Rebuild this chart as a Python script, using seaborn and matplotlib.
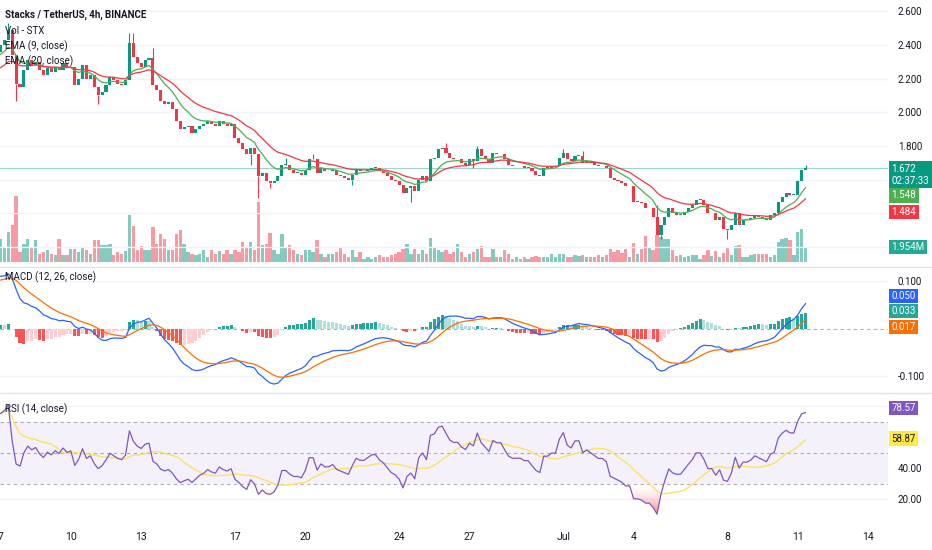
import numpy as np
import pandas as pd
import matplotlib
matplotlib.use('Agg')
import matplotlib.pyplot as plt
import matplotlib.dates as mdates
from matplotlib.lines import Line2D
from matplotlib.path import Path
from matplotlib.patches import PathPatch
from matplotlib.colors import LinearSegmentedColormap
from matplotlib import font_manager
import seaborn as sns

# 4h candles, STX/USDT, starting Jun 7 2024
first_time = '2024-06-07 00:00'
first_open = 2.36
closes = [
    2.40, 2.43, 2.49, 2.34, 2.17, 2.15, 2.25, 2.31, 2.28, 2.30,
    2.25, 2.22, 2.26, 2.24, 2.27, 2.25, 2.29, 2.26, 2.27, 2.16,
    2.20, 2.28, 2.20, 2.22, 2.15, 2.10, 2.12, 2.16, 2.21, 2.19,
    2.17, 2.16, 2.19, 2.41, 2.33, 2.29, 2.27, 2.31, 2.32, 2.16,
    2.13, 2.07, 2.05, 2.06, 2.02, 1.95, 1.90, 1.91, 1.92, 1.88,
    1.90, 1.92, 1.93, 1.95, 1.93, 1.92, 1.95, 1.93, 1.92, 1.93,
    1.85, 1.82, 1.78, 1.75, 1.79, 1.75, 1.62, 1.64, 1.59, 1.58,
    1.59, 1.62, 1.69, 1.69, 1.66, 1.64, 1.64, 1.63, 1.66, 1.72,
    1.72, 1.64, 1.67, 1.65, 1.65, 1.66, 1.63, 1.62, 1.61, 1.60,
    1.63, 1.66, 1.65, 1.65, 1.66, 1.67, 1.67, 1.65, 1.64, 1.62,
    1.60, 1.59, 1.57, 1.52, 1.55, 1.56, 1.53, 1.60, 1.62, 1.59,
    1.72, 1.73, 1.78, 1.79, 1.76, 1.73, 1.72, 1.72, 1.70, 1.69,
    1.72, 1.71, 1.78, 1.74, 1.72, 1.70, 1.76, 1.75, 1.75, 1.72,
    1.69, 1.68, 1.68, 1.68, 1.67, 1.67, 1.65, 1.63, 1.62, 1.67,
    1.67, 1.68, 1.68, 1.73, 1.76, 1.72, 1.71, 1.74, 1.74, 1.70,
    1.71, 1.70, 1.69, 1.68, 1.68, 1.67, 1.61, 1.60, 1.59, 1.58,
    1.56, 1.56, 1.47, 1.47, 1.46, 1.43, 1.43, 1.38, 1.27, 1.33,
    1.38, 1.43, 1.40, 1.39, 1.39, 1.41, 1.43, 1.45, 1.48, 1.48,
    1.45, 1.40, 1.40, 1.36, 1.38, 1.31, 1.30, 1.33, 1.40, 1.33,
    1.36, 1.36, 1.37, 1.39, 1.38, 1.37, 1.36, 1.39, 1.40, 1.47,
    1.50, 1.52, 1.51, 1.51, 1.59, 1.66, 1.672,
]
wick_highs = {2: 2.53, 33: 2.47, 34: 2.47, 39: 2.38, 73: 1.73, 80: 1.75, 114: 1.82,
              122: 1.80, 144: 1.78, 149: 1.77, 168: 1.45, 206: 1.69}
wick_lows = {4: 2.07, 25: 2.05, 64: 1.69, 66: 1.49, 69: 1.55, 90: 1.57, 105: 1.47,
             121: 1.67, 169: 1.25, 186: 1.25}
volumes_m = [
    3.0, 2.0, 3.9, 4.8, 8.6, 1.3, 2.3, 3.0, 2.0, 2.9,
    1.0, 1.3, 1.6, 1.0, 0.9, 3.0, 0.9, 0.9, 1.7, 1.7,
    1.3, 1.8, 1.6, 1.0, 2.9, 2.9, 2.2, 2.2, 2.3, 0.9,
    1.3, 1.0, 1.4, 6.1, 4.7, 1.6, 2.1, 1.6, 1.6, 4.6,
    2.3, 3.6, 3.0, 1.6, 1.6, 3.6, 4.2, 2.3, 1.3, 1.0,
    0.9, 1.0, 1.6, 0.7, 1.6, 1.0, 1.4, 1.0, 1.6, 1.0,
    1.6, 1.3, 2.6, 2.0, 2.6, 1.6, 7.8, 2.2, 2.3, 3.8,
    1.6, 1.0, 3.6, 2.0, 2.2, 1.6, 1.0, 0.9, 1.6, 1.6,
    1.3, 2.9, 1.0, 0.7, 1.0, 1.0, 1.3, 2.0, 1.0, 0.7,
    1.6, 0.7, 1.3, 0.4, 0.7, 0.4, 0.7, 0.9, 0.7, 0.7,
    0.9, 1.0, 1.3, 1.7, 2.3, 1.0, 1.7, 1.0, 1.6, 1.0,
    3.1, 2.0, 1.6, 1.3, 1.6, 1.0, 1.3, 2.3, 1.3, 0.7,
    1.0, 1.3, 1.7, 2.1, 0.7, 0.7, 1.7, 0.7, 0.7, 1.6,
    1.0, 0.4, 0.7, 0.4, 0.7, 0.4, 0.7, 0.8, 0.7, 0.7,
    0.7, 1.0, 0.7, 1.0, 1.0, 0.7, 0.7, 0.9, 0.8, 0.9,
    0.7, 0.7, 0.7, 0.9, 0.7, 0.9, 1.7, 1.3, 1.6, 1.2,
    1.7, 0.7, 2.5, 1.0, 1.7, 3.4, 2.0, 1.6, 3.5, 3.3,
    3.0, 3.0, 1.6, 0.8, 0.9, 0.7, 0.8, 0.9, 0.9, 0.4,
    0.9, 1.6, 0.8, 1.4, 0.7, 1.2, 2.0, 0.9, 2.1, 2.2,
    0.7, 0.7, 0.9, 1.0, 1.0, 1.0, 1.0, 0.7, 0.9, 2.6,
    3.0, 3.1, 2.9, 0.9, 3.9, 4.3, 1.954,
]

# indicator state just before the first visible candle
ema9_seed, ema20_seed = 2.33, 2.25
ema12_seed, ema26_seed, signal_seed = 2.30, 2.19, 0.10
rsi_gain_seed, rsi_loss_seed = 0.018, 0.007

price_ticks = [1.2, 1.4, 1.6, 1.8, 2.0, 2.2, 2.4, 2.6]
price_tick_labels = ['', '', '', '1.800', '2.000', '2.200', '2.400', '2.600']
macd_ticks = [-0.1, 0.1]
macd_tick_labels = ['-0.100', '0.100']
rsi_ticks = [20, 40, 60, 80]
rsi_tick_labels = ['20.00', '40.00', '', '']
date_ticks = ['2024-06-07', '2024-06-10', '2024-06-13', '2024-06-17', '2024-06-20',
              '2024-06-24', '2024-06-27', '2024-07-01', '2024-07-04', '2024-07-08',
              '2024-07-11', '2024-07-14']
date_labels = ['7', '10', '13', '17', '20', '24', '27', 'Jul', '4', '8', '11', '14']

# right scale badges: (text, centre y in px, face, text colour)
badges = [
    ('1.672\n02:37:33', 174.5, '#089981', 'white'),
    ('1.548', 195.5, '#4caf50', 'white'),
    ('1.484', 212, '#f23645', 'white'),
    ('1.954M', 247, '#22ab94', 'white'),
    ('0.050', 296, '#2962ff', 'white'),
    ('0.033', 311, '#26a69a', 'white'),
    ('0.017', 327, '#ff6d00', 'white'),
    ('78.57', 408, '#7e57c2', 'white'),
    ('58.87', 438.5, '#ffeb3b', '#131722'),
]
legend_texts = [
    ('Stacks / TetherUS, 4h, BINANCE', 15, 'bold'),
    ('Vol - STX', 31, 'normal'),
    ('EMA (9, close)', 46, 'normal'),
    ('EMA (20, close)', 61, 'normal'),
    ('MACD (12, 26, close)', 277, 'normal'),
    ('RSI (14, close)', 409, 'normal'),
]

sns.set_style('white')
available = {f.name for f in font_manager.fontManager.ttflist}
base_font = 'Liberation Sans Narrow' if 'Liberation Sans Narrow' in available else 'Roboto'
plt.rcParams['font.family'] = [base_font, 'DejaVu Sans']

TXT = '#131722'
GRID = '#f0f3fa'
UP, DOWN = '#089981', '#f23645'

# --- indicators -------------------------------------------------------------
close = np.array(closes)
opens = np.r_[first_open, close[:-1]]


def ema(values, span, seed):
    alpha = 2 / (span + 1)
    out, prev = [], seed
    for v in values:
        prev = prev + alpha * (v - prev)
        out.append(prev)
    return np.array(out)


ema9 = ema(close, 9, ema9_seed)
ema20 = ema(close, 20, ema20_seed)
macd = ema(close, 12, ema12_seed) - ema(close, 26, ema26_seed)
signal = ema(macd, 9, signal_seed)
hist = macd - signal

gain_avg, loss_avg = rsi_gain_seed, rsi_loss_seed
rsi, prev_close = [], first_open
for c in close:
    d = c - prev_close
    gain_avg = (gain_avg * 13 + max(d, 0)) / 14
    loss_avg = (loss_avg * 13 + max(-d, 0)) / 14
    rsi.append(100 - 100 / (1 + gain_avg / loss_avg))
    prev_close = c
rsi = np.array(rsi)
rsi_ma = pd.Series(rsi).rolling(14, min_periods=1).mean().to_numpy()

xs = mdates.date2num(pd.date_range(first_time, periods=len(closes), freq='4h'))
bar_w = 0.78 / 6
up = close >= opens
candle_colors = np.where(up, UP, DOWN)

prev_hist = np.r_[hist[0], hist[:-1]]
hist_colors = np.where(hist >= 0,
                       np.where(hist >= prev_hist, '#26a69a', '#b2dfdb'),
                       np.where(hist < prev_hist, '#ff5252', '#ffcdd2'))

# --- layout (pixel based) ---------------------------------------------------
W, H = 932, 550
fig = plt.figure(figsize=(W / 100, H / 100), dpi=100)
fig.patch.set_facecolor('white')


def px_axes(top, bottom, right=888):
    return fig.add_axes([0, 1 - bottom / H, right / W, (bottom - top) / H])


ax_p = px_axes(0, 266)
ax_m = px_axes(268, 392)
ax_r = px_axes(394, 518)
ax_v = ax_p.twinx()
ax_v.set_zorder(ax_p.get_zorder() - 1)
ax_p.patch.set_visible(False)

x0 = mdates.date2num(pd.Timestamp(first_time)) - 0.02
x1 = x0 + 888 / 23.45

# volume
ax_v.bar(xs, volumes_m, width=0.85 / 6, color=candle_colors, alpha=0.5, linewidth=0)
ax_v.set_ylim(-0.52, 34.06)
ax_v.axis('off')

# candles
body_lo = np.minimum(opens, close)
body_h = np.maximum(np.abs(close - opens), 0.004)
for i, h in wick_highs.items():
    ax_p.vlines(xs[i], max(opens[i], close[i]), h, color=candle_colors[i], lw=0.8, zorder=2)
for i, l in wick_lows.items():
    ax_p.vlines(xs[i], l, min(opens[i], close[i]), color=candle_colors[i], lw=0.8, zorder=2)
ax_p.bar(xs, body_h, bottom=body_lo, width=bar_w, color=candle_colors, linewidth=0, zorder=3)
sns.lineplot(x=xs, y=ema9, ax=ax_p, color='#4caf50', lw=0.9, zorder=4)
sns.lineplot(x=xs, y=ema20, ax=ax_p, color='#f23645', lw=0.9, zorder=4)
ax_p.axhline(close[-1], color=UP, lw=0.8, alpha=0.4, zorder=1)
ax_p.set_ylim(1.8 - 120 / 168.5, 1.8 + 146 / 168.5)
ax_p.set_yticks(price_ticks, price_tick_labels)

# MACD
ax_m.bar(xs, hist, width=bar_w, color=hist_colors, linewidth=0, zorder=2)
ax_m.axhline(0, color='#787b86', lw=0.8, ls=(0, (3, 3)), alpha=0.6, zorder=1)
sns.lineplot(x=xs, y=macd, ax=ax_m, color='#2962ff', lw=0.9, zorder=3)
sns.lineplot(x=xs, y=signal, ax=ax_m, color='#ff6d00', lw=0.9, zorder=3)
ax_m.set_ylim(-63.5 / 475, 60.5 / 475)
ax_m.set_yticks(macd_ticks, macd_tick_labels)

# RSI
r_lo, r_hi = 40 - 50 / 1.55, 40 + 74 / 1.55
ax_r.axhspan(30, 70, color='#7e57c2', alpha=0.08, lw=0, zorder=0)
for lvl in (30, 50, 70):
    ax_r.axhline(lvl, color='#787b86', lw=0.8, ls=(0, (3, 3)), alpha=0.6, zorder=1)


def gradient_fill(mask_poly, y_from, y_to, color, max_alpha):
    """Vertical gradient (transparent at y_from, solid at y_to) clipped to a polygon."""
    cmap = LinearSegmentedColormap.from_list('g', [(1, 1, 1, 0), matplotlib.colors.to_rgba(color, max_alpha)])
    grad = np.linspace(0, 1, 256).reshape(-1, 1)
    lo, hi = min(y_from, y_to), max(y_from, y_to)
    origin = 'lower' if y_to > y_from else 'upper'
    im = ax_r.imshow(grad, extent=[x0, x1, lo, hi], aspect='auto', cmap=cmap,
                     origin=origin, zorder=2, interpolation='bilinear')
    paths = mask_poly.get_paths()
    clip = PathPatch(Path.make_compound_path(*paths), transform=ax_r.transData)
    im.set_clip_path(clip)
    mask_poly.remove()


low_poly = ax_r.fill_between(xs, rsi, 30, where=rsi < 30, interpolate=True, lw=0, alpha=0)
gradient_fill(low_poly, 30, 10, '#f23645', 0.65)
high_poly = ax_r.fill_between(xs, rsi, 70, where=rsi > 70, interpolate=True, lw=0, alpha=0)
gradient_fill(high_poly, 70, 90, '#089981', 0.5)

sns.lineplot(x=xs, y=rsi_ma, ax=ax_r, color='#f7e463', lw=1.0, zorder=3)
sns.lineplot(x=xs, y=rsi, ax=ax_r, color='#7e57c2', lw=0.9, zorder=4)
ax_r.set_ylim(r_lo, r_hi)
ax_r.set_yticks(rsi_ticks, rsi_tick_labels)

for ax in (ax_p, ax_m, ax_r):
    ax.set_xlim(x0, x1)
    ax.set_xlabel('')
    ax.set_ylabel('')
    ax.yaxis.tick_right()
    ax.tick_params(axis='y', length=0, pad=7, labelsize=7, labelcolor=TXT)
    ax.grid(axis='y', color=GRID, lw=1)
    ax.grid(axis='x', visible=False)
    ax.set_axisbelow(True)
    for s in ax.spines.values():
        s.set_visible(False)
ax_v.set_xlim(x0, x1)
ax_p.set_xticks([])
ax_m.set_xticks([])
ax_r.set_xticks(mdates.date2num(pd.to_datetime(date_ticks)), date_labels)
ax_r.tick_params(axis='x', length=0, pad=10, labelsize=7.5, labelcolor=TXT)

# pane separators
for y in (267, 393):
    fig.add_artist(Line2D([0, 1], [1 - y / H, 1 - y / H], transform=fig.transFigure,
                          color='#e0e3eb', lw=1))

for text, y, weight in legend_texts:
    fig.text(5 / W, 1 - y / H, text, ha='left', va='center', fontsize=7,
             fontweight=weight, color=TXT)

for text, y, face, col in badges:
    fig.text(891.5 / W, 1 - y / H, text, ha='left', va='center', fontsize=7,
             color=col, linespacing=1.25,
             bbox=dict(boxstyle='square,pad=0.25', fc=face, ec='none'))

fig.savefig('out.png', dpi=100, facecolor='white')
